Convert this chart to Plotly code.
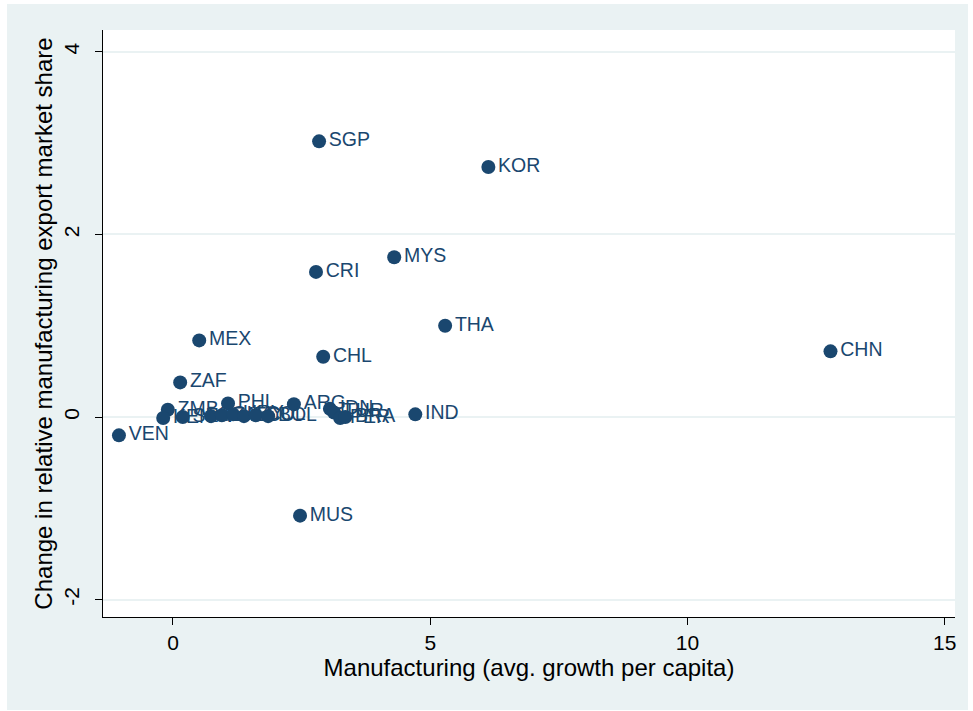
import plotly.graph_objects as go

countries = ["SGP", "KOR", "MYS", "CRI", "THA", "CHN", "MEX", "CHL", "ZAF", "PHL", "ARG",
             "ZMB", "IND", "VEN", "MUS",
             "KEN", "SEN", "TZA", "GHA", "URY", "ECU", "COL", "BOL",
             "IDN", "TUR", "PER", "BRA"]
growth = [2.84, 6.13, 4.30, 2.78, 5.29, 12.78, 0.51, 2.92, 0.14, 1.07, 2.35,
          -0.10, 4.71, -1.05, 2.47,
          -0.19, 0.19, 0.74, 0.95, 1.17, 1.38, 1.61, 1.85,
          3.05, 3.13, 3.25, 3.35]
share_change = [3.02, 2.74, 1.75, 1.59, 1.00, 0.72, 0.84, 0.66, 0.38, 0.15, 0.14,
                0.08, 0.03, -0.20, -1.08,
                -0.01, 0.00, 0.01, 0.02, 0.03, 0.01, 0.02, 0.01,
                0.09, 0.05, -0.01, 0.00]

x_ticks = [0, 5, 10, 15]
y_ticks = [-2, 0, 2, 4]

navy = "#1A476F"
bg = "#EAF2F3"

fig = go.Figure()
fig.add_trace(go.Scatter(
    x=growth, y=share_change, text=countries,
    mode="markers+text", textposition="middle right",
    marker=dict(color=navy, size=14, line=dict(width=0)),
    textfont=dict(family="Liberation Sans, Arial", size=19.5, color=navy),
    cliponaxis=False, showlegend=False,
))

fig.update_layout(
    width=973, height=711,
    margin=dict(l=103, r=18, t=30, b=94),
    paper_bgcolor="white", plot_bgcolor="white",
    font=dict(family="Liberation Sans, Arial", color="black"),
    shapes=[
        dict(type="rect", xref="paper", yref="paper",
             x0=(7 - 103) / 852, x1=(968 - 103) / 852,
             y0=(617 - 710) / 587, y1=(617 - 4) / 587,
             fillcolor=bg, line=dict(width=0), layer="below"),
        dict(type="rect", xref="paper", yref="paper", x0=0, x1=1, y0=0, y1=1,
             fillcolor="white", line=dict(width=0), layer="below"),
    ],
    xaxis=dict(
        range=[-1.36, 15.2], tickvals=x_ticks, ticktext=[str(v) for v in x_ticks],
        showgrid=False, zeroline=False, showline=True, linecolor="black", linewidth=1,
        ticks="outside", ticklen=7, tickcolor="black", tickfont=dict(size=21),
        title=dict(text="Manufacturing (avg. growth per capita)", font=dict(size=24), standoff=2),
    ),
    yaxis=dict(
        range=[-2.19, 4.24], tickvals=y_ticks, ticktext=[str(v) for v in y_ticks],
        showgrid=True, gridcolor=bg, gridwidth=1.5, zeroline=False,
        showline=True, linecolor="black", linewidth=1,
        ticks="outside", ticklen=7, tickcolor="black", tickfont=dict(size=21), tickangle=-90,
        ticklabelstandoff=8,
        title=dict(text="Change in relative manufacturing export market share", font=dict(size=24), standoff=0),
    ),
)

fig.write_html("out.html")
